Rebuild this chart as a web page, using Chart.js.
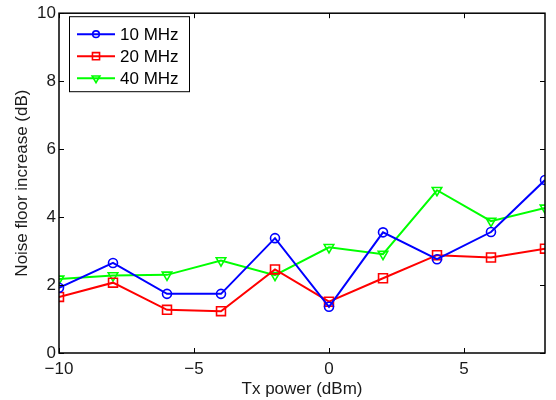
<!DOCTYPE html>
<html>
<head>
<meta charset="utf-8">
<script src="https://cdn.jsdelivr.net/npm/chart.js@4/dist/chart.umd.min.js"></script>
<style>
  html, body { margin: 0; padding: 0; background: #fff; }
  #wrap { width: 556px; height: 400px; }
</style>
</head>
<body>
<div id="wrap"><canvas id="chartRuido"></canvas></div>
<script>
const txPower = [-10, -8, -6, -4, -2, 0, 2, 4, 6, 8];
const mhz10 = [1.92, 2.65, 1.74, 1.74, 3.38, 1.36, 3.55, 2.76, 3.56, 5.09];
const mhz20 = [1.65, 2.07, 1.27, 1.23, 2.46, 1.51, 2.20, 2.88, 2.81, 3.07];
const mhz40 = [2.18, 2.28, 2.30, 2.72, 2.29, 3.11, 2.91, 4.79, 3.88, 4.27];
const xTicks = [-10, -5, 0, 5];
const yTicks = [0, 2, 4, 6, 8, 10];

const fuente = 'Liberation Sans, Arial, sans-serif';

function serie(label, values, color, pointStyle, radius, rotation, legendRadius) {
    return {
        label: label,
        data: txPower.map((x, i) => ({ x: x, y: values[i] })),
        borderColor: color,
        backgroundColor: 'transparent',
        borderWidth: 2,
        pointStyle: pointStyle,
        pointRadius: radius,
        pointRotation: rotation,
        pointBorderWidth: 1.6,
        pointBorderColor: color,
        pointBackgroundColor: 'transparent',
        legendRadius: legendRadius,
        tension: 0
    };
}

// caja del eje con marcas hacia adentro
const cajaEjes = {
    id: 'cajaEjes',
    afterDatasetsDraw(chart) {
        const { ctx, chartArea: a, scales } = chart;
        ctx.save();
        ctx.strokeStyle = '#000';
        ctx.lineWidth = 1;
        const len = 5;
        ctx.beginPath();
        xTicks.forEach((v) => {
            const px = Math.round(scales.x.getPixelForValue(v)) + 0.5;
            ctx.moveTo(px, a.bottom); ctx.lineTo(px, a.bottom - len);
            ctx.moveTo(px, a.top); ctx.lineTo(px, a.top + len);
        });
        yTicks.forEach((v) => {
            const py = Math.round(scales.y.getPixelForValue(v)) + 0.5;
            ctx.moveTo(a.left, py); ctx.lineTo(a.left + len, py);
            ctx.moveTo(a.right, py); ctx.lineTo(a.right - len, py);
        });
        ctx.stroke();
        ctx.lineWidth = 1.5;
        ctx.strokeRect(a.left, a.top, a.right - a.left, a.bottom - a.top);
        ctx.restore();
    }
};

// leyenda con linea y marcador
const leyenda = {
    id: 'leyenda',
    afterDraw(chart) {
        const { ctx, chartArea: a } = chart;
        const x0 = a.left + 10, y0 = a.top + 3, w = 120, h = 75;
        ctx.save();
        ctx.fillStyle = '#fff';
        ctx.fillRect(x0, y0, w, h);
        ctx.strokeStyle = '#000';
        ctx.lineWidth = 1;
        ctx.strokeRect(x0 + 0.5, y0 + 0.5, w, h);
        chart.data.datasets.forEach((ds, i) => {
            const y = y0 + 18 + i * 22;
            ctx.strokeStyle = ds.borderColor;
            ctx.lineWidth = 2;
            ctx.beginPath();
            ctx.moveTo(x0 + 8, y);
            ctx.lineTo(x0 + 46, y);
            ctx.stroke();
            ctx.fillStyle = 'rgba(0,0,0,0)';
            ctx.lineWidth = 1.6;
            Chart.helpers.drawPoint(ctx, {
                pointStyle: ds.pointStyle,
                radius: ds.legendRadius,
                rotation: ds.pointRotation,
                borderWidth: 1.6
            }, x0 + 27, y);
            ctx.fillStyle = '#000';
            ctx.font = '17px ' + fuente;
            ctx.textBaseline = 'middle';
            ctx.fillText(ds.label, x0 + 51, y + 1);
        });
        ctx.restore();
    }
};

const config = {
    type: 'line',
    data: {
        datasets: [
            serie('10 MHz', mhz10, '#0000ff', 'circle', 4.5, 0, 3.3),
            serie('20 MHz', mhz20, '#ff0000', 'rect', 6.3, 0, 5),
            serie('40 MHz', mhz40, '#00ff00', 'triangle', 5.5, 180, 4.5)
        ]
    },
    options: {
        responsive: true,
        maintainAspectRatio: false,
        animation: false,
        layout: { padding: { top: 12, right: 11, left: 0, bottom: 0 } },
        plugins: { legend: { display: false }, tooltip: { enabled: false } },
        scales: {
            x: {
                type: 'linear',
                min: -10,
                max: 8,
                afterBuildTicks: (s) => { s.ticks = xTicks.map((v) => ({ value: v })); },
                afterFit: (s) => { s.height = 47; },
                grid: { display: false, drawTicks: false },
                border: { display: false },
                ticks: {
                    color: '#1a1a1a',
                    font: { family: fuente, size: 17 },
                    padding: 6,
                    maxRotation: 0,
                    callback: (v) => (v < 0 ? '\u2212' + Math.abs(v) : String(v))
                },
                title: {
                    display: true,
                    text: 'Tx power (dBm)',
                    color: '#1a1a1a',
                    font: { family: fuente, size: 17 },
                    padding: { top: 0, bottom: 0 }
                }
            },
            y: {
                min: 0,
                max: 10,
                afterBuildTicks: (s) => { s.ticks = yTicks.map((v) => ({ value: v })); },
                afterFit: (s) => { s.width = 59; },
                grid: { display: false, drawTicks: false },
                border: { display: false },
                ticks: {
                    color: '#1a1a1a',
                    font: { family: fuente, size: 17 },
                    padding: 3
                },
                title: {
                    display: true,
                    text: 'Noise floor increase (dB)',
                    color: '#1a1a1a',
                    font: { family: fuente, size: 17 },
                    padding: { top: 12, bottom: 0 }
                }
            }
        }
    },
    plugins: [cajaEjes, leyenda]
};

const canvasRuido = document.getElementById('chartRuido');
const graficoRuido = new Chart(canvasRuido, config);
</script>
</body>
</html>
